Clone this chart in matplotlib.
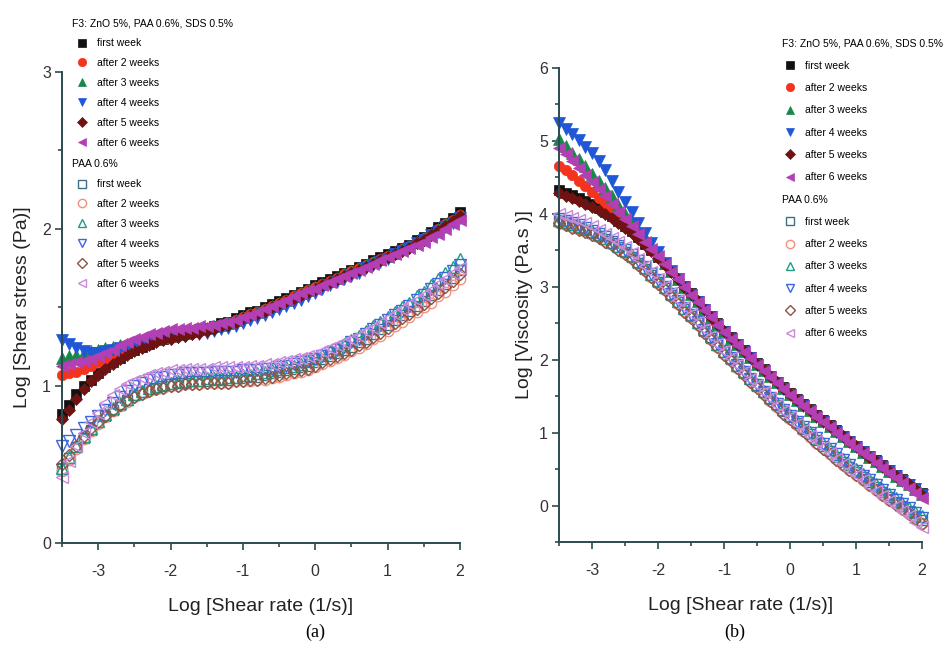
import matplotlib
matplotlib.use("Agg")
import matplotlib.pyplot as plt
from matplotlib.ticker import MultipleLocator

plt.rcParams["axes.unicode_minus"] = False

# log shear rate (1/s), shared by every series
shear_rate = [-3.5, -3.4, -3.3, -3.2, -3.1, -3.0, -2.9, -2.8, -2.7, -2.6,
              -2.5, -2.4, -2.3, -2.2, -2.1, -2.0, -1.9, -1.8, -1.7, -1.6,
              -1.5, -1.4, -1.3, -1.2, -1.1, -1.0, -0.9, -0.8, -0.7, -0.6,
              -0.5, -0.4, -0.3, -0.2, -0.1, 0.0, 0.1, 0.2, 0.3, 0.4,
              0.5, 0.6, 0.7, 0.8, 0.9, 1.0, 1.1, 1.2, 1.3, 1.4,
              1.5, 1.6, 1.7, 1.8, 1.9, 2.0]

week_labels = ["first week", "after 2 weeks", "after 3 weeks",
               "after 4 weeks", "after 5 weeks", "after 6 weeks"]
f3_title = "F3: ZnO 5%, PAA 0.6%, SDS 0.5%"
paa_title = "PAA 0.6%"

# (a) log shear stress, F3 formulation
stress_f3 = [
    [0.82, 0.88, 0.95, 1.00, 1.04, 1.08, 1.12, 1.15, 1.18, 1.21, 1.23, 1.25, 1.27, 1.29, 1.30, 1.32, 1.33, 1.34, 1.35, 1.36,
     1.37, 1.38, 1.40, 1.41, 1.43, 1.45, 1.47, 1.48, 1.50, 1.52, 1.54, 1.56, 1.58, 1.60, 1.62, 1.64, 1.66, 1.68, 1.70, 1.72,
     1.74, 1.76, 1.78, 1.80, 1.82, 1.84, 1.86, 1.88, 1.90, 1.93, 1.95, 1.98, 2.01, 2.04, 2.07, 2.11],
    [1.07, 1.08, 1.09, 1.11, 1.13, 1.15, 1.17, 1.19, 1.21, 1.23, 1.25, 1.26, 1.28, 1.29, 1.30, 1.31, 1.32, 1.33, 1.34, 1.35,
     1.36, 1.37, 1.39, 1.40, 1.42, 1.44, 1.46, 1.47, 1.49, 1.51, 1.53, 1.55, 1.57, 1.59, 1.61, 1.63, 1.65, 1.67, 1.69, 1.71,
     1.73, 1.75, 1.77, 1.79, 1.81, 1.83, 1.85, 1.87, 1.89, 1.92, 1.94, 1.97, 2.00, 2.03, 2.06, 2.09],
    [1.18, 1.19, 1.20, 1.21, 1.22, 1.23, 1.24, 1.25, 1.26, 1.27, 1.28, 1.29, 1.30, 1.30, 1.31, 1.32, 1.33, 1.34, 1.35, 1.36,
     1.37, 1.38, 1.39, 1.40, 1.42, 1.44, 1.46, 1.47, 1.49, 1.51, 1.53, 1.55, 1.57, 1.59, 1.61, 1.63, 1.65, 1.67, 1.69, 1.71,
     1.73, 1.75, 1.77, 1.79, 1.81, 1.83, 1.85, 1.87, 1.89, 1.92, 1.94, 1.97, 2.00, 2.03, 2.06, 2.09],
    [1.29, 1.27, 1.24, 1.22, 1.21, 1.21, 1.22, 1.23, 1.24, 1.25, 1.26, 1.27, 1.28, 1.29, 1.30, 1.30, 1.31, 1.32, 1.33, 1.33,
     1.34, 1.35, 1.36, 1.37, 1.38, 1.40, 1.42, 1.43, 1.45, 1.47, 1.49, 1.51, 1.53, 1.55, 1.57, 1.59, 1.62, 1.64, 1.66, 1.68,
     1.70, 1.72, 1.75, 1.77, 1.79, 1.81, 1.84, 1.86, 1.88, 1.91, 1.93, 1.96, 1.98, 2.01, 2.04, 2.07],
    [0.79, 0.85, 0.92, 0.98, 1.03, 1.07, 1.11, 1.14, 1.17, 1.20, 1.22, 1.24, 1.26, 1.28, 1.29, 1.30, 1.31, 1.32, 1.33, 1.34,
     1.35, 1.36, 1.38, 1.39, 1.41, 1.43, 1.45, 1.46, 1.48, 1.50, 1.52, 1.54, 1.56, 1.58, 1.60, 1.62, 1.64, 1.66, 1.68, 1.70,
     1.72, 1.74, 1.76, 1.78, 1.80, 1.82, 1.84, 1.86, 1.88, 1.91, 1.93, 1.96, 1.99, 2.02, 2.05, 2.08],
    [1.13, 1.14, 1.15, 1.16, 1.17, 1.19, 1.21, 1.23, 1.26, 1.28, 1.30, 1.31, 1.33, 1.34, 1.35, 1.36, 1.36, 1.37, 1.37, 1.38,
     1.38, 1.39, 1.40, 1.41, 1.42, 1.44, 1.45, 1.47, 1.49, 1.51, 1.53, 1.55, 1.57, 1.59, 1.61, 1.62, 1.64, 1.66, 1.68, 1.70,
     1.72, 1.74, 1.76, 1.78, 1.80, 1.82, 1.84, 1.86, 1.88, 1.90, 1.92, 1.95, 1.97, 2.00, 2.03, 2.06],
]

# (a) log shear stress, PAA 0.6% alone
stress_paa = [
    [0.47, 0.54, 0.61, 0.67, 0.72, 0.77, 0.81, 0.85, 0.88, 0.91, 0.94, 0.96, 0.98, 0.99, 1.00, 1.01, 1.02, 1.02, 1.03, 1.03,
     1.03, 1.04, 1.04, 1.04, 1.05, 1.05, 1.06, 1.06, 1.07, 1.08, 1.09, 1.10, 1.11, 1.12, 1.13, 1.15, 1.17, 1.19, 1.21, 1.23,
     1.25, 1.28, 1.30, 1.33, 1.36, 1.39, 1.42, 1.45, 1.48, 1.51, 1.54, 1.58, 1.61, 1.65, 1.69, 1.74],
    [0.46, 0.53, 0.60, 0.66, 0.71, 0.76, 0.80, 0.84, 0.87, 0.90, 0.93, 0.95, 0.97, 0.98, 0.99, 1.00, 1.00, 1.01, 1.01, 1.01,
     1.02, 1.02, 1.02, 1.02, 1.03, 1.03, 1.03, 1.04, 1.04, 1.05, 1.06, 1.07, 1.08, 1.09, 1.10, 1.12, 1.14, 1.16, 1.18, 1.20,
     1.22, 1.24, 1.27, 1.30, 1.32, 1.35, 1.38, 1.41, 1.44, 1.47, 1.50, 1.53, 1.57, 1.60, 1.64, 1.68],
    [0.48, 0.55, 0.62, 0.68, 0.73, 0.78, 0.82, 0.86, 0.89, 0.92, 0.95, 0.97, 0.99, 1.00, 1.01, 1.02, 1.03, 1.03, 1.04, 1.04,
     1.05, 1.05, 1.05, 1.06, 1.06, 1.07, 1.07, 1.08, 1.09, 1.10, 1.11, 1.12, 1.13, 1.14, 1.16, 1.18, 1.20, 1.22, 1.24, 1.27,
     1.29, 1.32, 1.35, 1.38, 1.41, 1.44, 1.47, 1.50, 1.53, 1.57, 1.60, 1.64, 1.68, 1.72, 1.76, 1.81],
    [0.62, 0.65, 0.69, 0.73, 0.77, 0.81, 0.85, 0.89, 0.93, 0.97, 1.00, 1.02, 1.04, 1.05, 1.06, 1.07, 1.07, 1.08, 1.08, 1.08,
     1.08, 1.09, 1.09, 1.09, 1.09, 1.10, 1.10, 1.10, 1.11, 1.11, 1.12, 1.13, 1.14, 1.15, 1.16, 1.17, 1.19, 1.21, 1.23, 1.25,
     1.28, 1.30, 1.33, 1.36, 1.39, 1.42, 1.45, 1.48, 1.51, 1.55, 1.58, 1.62, 1.65, 1.69, 1.73, 1.77],
    [0.50, 0.56, 0.62, 0.68, 0.73, 0.77, 0.81, 0.85, 0.88, 0.91, 0.93, 0.95, 0.97, 0.98, 0.99, 1.00, 1.00, 1.01, 1.01, 1.01,
     1.02, 1.02, 1.02, 1.02, 1.03, 1.03, 1.04, 1.04, 1.05, 1.06, 1.07, 1.08, 1.09, 1.10, 1.11, 1.13, 1.15, 1.17, 1.19, 1.21,
     1.23, 1.26, 1.28, 1.31, 1.34, 1.37, 1.40, 1.43, 1.46, 1.49, 1.52, 1.56, 1.59, 1.63, 1.67, 1.71],
    [0.42, 0.52, 0.62, 0.70, 0.77, 0.83, 0.89, 0.94, 0.98, 1.01, 1.03, 1.05, 1.07, 1.08, 1.09, 1.10, 1.10, 1.11, 1.11, 1.11,
     1.11, 1.12, 1.12, 1.12, 1.12, 1.12, 1.13, 1.13, 1.14, 1.14, 1.15, 1.16, 1.17, 1.18, 1.19, 1.20, 1.22, 1.24, 1.26, 1.28,
     1.30, 1.32, 1.35, 1.37, 1.40, 1.43, 1.46, 1.49, 1.52, 1.55, 1.58, 1.61, 1.65, 1.68, 1.72, 1.75],
]

# (b) log viscosity, F3 formulation
visc_f3 = [
    [4.32, 4.29, 4.26, 4.22, 4.18, 4.13, 4.08, 4.03, 3.97, 3.90, 3.83, 3.76, 3.68, 3.59, 3.50, 3.41, 3.31, 3.21, 3.11, 3.01,
     2.91, 2.81, 2.70, 2.60, 2.50, 2.40, 2.31, 2.22, 2.13, 2.04, 1.95, 1.87, 1.78, 1.70, 1.62, 1.54, 1.46, 1.39, 1.32, 1.24,
     1.17, 1.10, 1.03, 0.96, 0.89, 0.82, 0.75, 0.68, 0.62, 0.55, 0.49, 0.42, 0.36, 0.30, 0.24, 0.17],
    [4.66, 4.60, 4.53, 4.45, 4.38, 4.30, 4.22, 4.14, 4.05, 3.97, 3.88, 3.79, 3.70, 3.60, 3.51, 3.41, 3.31, 3.21, 3.11, 3.00,
     2.90, 2.80, 2.69, 2.59, 2.49, 2.39, 2.30, 2.21, 2.12, 2.03, 1.94, 1.86, 1.77, 1.69, 1.61, 1.53, 1.45, 1.38, 1.31, 1.23,
     1.16, 1.09, 1.02, 0.95, 0.88, 0.81, 0.74, 0.67, 0.61, 0.54, 0.48, 0.41, 0.35, 0.29, 0.23, 0.16],
    [5.02, 4.93, 4.84, 4.75, 4.65, 4.55, 4.45, 4.35, 4.24, 4.12, 4.00, 3.89, 3.78, 3.68, 3.56, 3.45, 3.32, 3.21, 3.11, 3.00,
     2.90, 2.80, 2.69, 2.59, 2.49, 2.39, 2.30, 2.21, 2.12, 2.03, 1.94, 1.86, 1.77, 1.69, 1.61, 1.53, 1.45, 1.38, 1.31, 1.23,
     1.16, 1.09, 1.02, 0.95, 0.88, 0.81, 0.74, 0.67, 0.61, 0.54, 0.48, 0.41, 0.35, 0.29, 0.23, 0.16],
    [5.24, 5.17, 5.10, 5.01, 4.92, 4.83, 4.72, 4.60, 4.45, 4.30, 4.16, 4.02, 3.88, 3.74, 3.60, 3.47, 3.33, 3.21, 3.10, 2.99,
     2.89, 2.79, 2.68, 2.58, 2.48, 2.38, 2.29, 2.20, 2.11, 2.02, 1.93, 1.85, 1.76, 1.68, 1.60, 1.52, 1.44, 1.37, 1.30, 1.22,
     1.15, 1.08, 1.01, 0.94, 0.87, 0.80, 0.73, 0.66, 0.60, 0.53, 0.47, 0.40, 0.34, 0.28, 0.22, 0.15],
    [4.28, 4.25, 4.22, 4.18, 4.14, 4.10, 4.05, 4.00, 3.94, 3.88, 3.81, 3.74, 3.66, 3.57, 3.49, 3.40, 3.30, 3.20, 3.10, 3.00,
     2.90, 2.80, 2.69, 2.59, 2.49, 2.39, 2.30, 2.21, 2.12, 2.03, 1.94, 1.86, 1.77, 1.69, 1.61, 1.53, 1.45, 1.38, 1.31, 1.23,
     1.16, 1.09, 1.02, 0.95, 0.88, 0.81, 0.74, 0.67, 0.61, 0.54, 0.48, 0.41, 0.35, 0.29, 0.23, 0.15],
    [4.90, 4.82, 4.73, 4.63, 4.53, 4.44, 4.34, 4.24, 4.14, 4.03, 3.93, 3.83, 3.72, 3.62, 3.52, 3.42, 3.31, 3.20, 3.10, 2.99,
     2.89, 2.79, 2.68, 2.58, 2.48, 2.38, 2.29, 2.20, 2.11, 2.02, 1.93, 1.84, 1.76, 1.68, 1.60, 1.52, 1.44, 1.36, 1.29, 1.22,
     1.14, 1.07, 1.00, 0.93, 0.86, 0.79, 0.72, 0.66, 0.59, 0.52, 0.45, 0.38, 0.31, 0.24, 0.17, 0.10],
]

# (b) log viscosity, PAA 0.6% alone
visc_paa = [
    [3.90, 3.87, 3.84, 3.81, 3.78, 3.74, 3.70, 3.65, 3.60, 3.54, 3.48, 3.41, 3.33, 3.25, 3.16, 3.07, 2.98, 2.89, 2.79, 2.69,
     2.60, 2.50, 2.40, 2.30, 2.20, 2.10, 2.01, 1.91, 1.82, 1.73, 1.64, 1.55, 1.46, 1.38, 1.30, 1.21, 1.13, 1.05, 0.98, 0.90,
     0.82, 0.75, 0.67, 0.60, 0.53, 0.46, 0.39, 0.32, 0.25, 0.18, 0.12, 0.05, -0.01, -0.07, -0.14, -0.20],
    [3.88, 3.85, 3.82, 3.79, 3.76, 3.72, 3.68, 3.63, 3.58, 3.52, 3.46, 3.39, 3.31, 3.23, 3.14, 3.05, 2.96, 2.87, 2.77, 2.67,
     2.58, 2.48, 2.38, 2.28, 2.18, 2.08, 1.99, 1.89, 1.80, 1.71, 1.62, 1.53, 1.44, 1.35, 1.27, 1.18, 1.10, 1.02, 0.94, 0.86,
     0.79, 0.71, 0.64, 0.56, 0.49, 0.42, 0.35, 0.28, 0.21, 0.15, 0.08, 0.02, -0.05, -0.11, -0.17, -0.24],
    [3.92, 3.89, 3.86, 3.83, 3.80, 3.76, 3.72, 3.67, 3.62, 3.56, 3.50, 3.43, 3.35, 3.27, 3.18, 3.09, 3.00, 2.91, 2.81, 2.71,
     2.62, 2.52, 2.42, 2.32, 2.22, 2.12, 2.03, 1.93, 1.84, 1.75, 1.66, 1.57, 1.49, 1.40, 1.32, 1.24, 1.16, 1.08, 1.01, 0.93,
     0.86, 0.78, 0.71, 0.64, 0.57, 0.50, 0.43, 0.36, 0.29, 0.23, 0.16, 0.10, 0.04, -0.03, -0.09, -0.15],
    [3.93, 3.90, 3.87, 3.84, 3.81, 3.77, 3.73, 3.68, 3.62, 3.56, 3.50, 3.43, 3.35, 3.27, 3.18, 3.09, 3.00, 2.90, 2.81, 2.71,
     2.61, 2.51, 2.41, 2.31, 2.21, 2.12, 2.02, 1.93, 1.83, 1.74, 1.65, 1.56, 1.48, 1.39, 1.31, 1.23, 1.15, 1.07, 0.99, 0.92,
     0.84, 0.77, 0.70, 0.62, 0.55, 0.48, 0.41, 0.35, 0.28, 0.21, 0.15, 0.08, 0.02, -0.04, -0.10, -0.17],
    [3.87, 3.84, 3.81, 3.78, 3.75, 3.71, 3.67, 3.62, 3.57, 3.51, 3.45, 3.38, 3.30, 3.22, 3.13, 3.04, 2.95, 2.86, 2.76, 2.66,
     2.57, 2.47, 2.37, 2.27, 2.17, 2.07, 1.98, 1.88, 1.79, 1.70, 1.61, 1.52, 1.43, 1.35, 1.26, 1.18, 1.10, 1.02, 0.94, 0.86,
     0.78, 0.71, 0.63, 0.56, 0.49, 0.42, 0.35, 0.28, 0.21, 0.14, 0.08, 0.01, -0.05, -0.12, -0.18, -0.25],
    [4.00, 3.97, 3.94, 3.91, 3.87, 3.83, 3.78, 3.73, 3.67, 3.61, 3.54, 3.46, 3.38, 3.29, 3.20, 3.10, 3.01, 2.91, 2.82, 2.72,
     2.62, 2.52, 2.42, 2.32, 2.22, 2.12, 2.02, 1.93, 1.83, 1.74, 1.65, 1.56, 1.47, 1.38, 1.29, 1.21, 1.12, 1.04, 0.96, 0.88,
     0.80, 0.72, 0.64, 0.57, 0.49, 0.42, 0.35, 0.27, 0.20, 0.13, 0.06, -0.01, -0.08, -0.15, -0.22, -0.30],
]

f3_colors = ["#111111", "#f2341e", "#17884a", "#1f57d6", "#6e1212", "#b23fb4"]
paa_colors = ["#3d6f86", "#f4907c", "#1d9c86", "#3a66e0", "#8c5444", "#c98ad8"]
markers = ["s", "o", "^", "v", "D", "<"]
msizes = [6.5, 7.5, 8, 8, 6.5, 8]

sans = "Liberation Sans"
spine_col = "#2c4a50"

fig = plt.figure(figsize=(9.46, 6.53), dpi=100)
ax_a = fig.add_axes([0.0655, 0.1685, 0.4207, 0.7213])
ax_b = fig.add_axes([0.591, 0.17, 0.3837, 0.7259])


def style_axes(ax, ylim, ylabel, ypad):
    ax.set_xlim(-3.5, 2)
    ax.set_ylim(*ylim)
    ax.xaxis.set_minor_locator(MultipleLocator(0.5))
    ax.yaxis.set_major_locator(MultipleLocator(1))
    ax.yaxis.set_minor_locator(MultipleLocator(0.5))
    ax.set_xticks([-3, -2, -1, 0, 1, 2])
    for s in ["top", "right"]:
        ax.spines[s].set_visible(False)
    for s in ["left", "bottom"]:
        ax.spines[s].set_color(spine_col)
        ax.spines[s].set_linewidth(1.4)
    ax.tick_params(which="both", direction="out", color=spine_col, width=1.2)
    ax.tick_params(which="major", length=5)
    ax.tick_params(axis="x", which="major", pad=10)
    ax.tick_params(axis="y", which="major", pad=3)
    ax.tick_params(which="minor", length=3)
    for lab in ax.get_xticklabels() + ax.get_yticklabels():
        lab.set_family(sans)
        lab.set_fontsize(11.5)
        lab.set_color("#333333")
    ax.set_xlabel("Log [Shear rate (1/s)]", fontsize=14, family=sans, labelpad=14, color="#222222")
    ax.set_ylabel(ylabel, fontsize=14, family=sans, labelpad=ypad, color="#222222")


def draw(ax, f3_data, paa_data):
    h_f3, h_paa = [], []
    for k in range(6):
        h, = ax.plot(shear_rate, paa_data[k], linestyle="none", marker=markers[k], ms=msizes[k],
                     mfc="none", mec=paa_colors[k], mew=1.0, clip_on=False, label=week_labels[k])
        h_paa.append(h)
    for k in range(6):
        h, = ax.plot(shear_rate, f3_data[k], linestyle="none", marker=markers[k], ms=msizes[k],
                     color=f3_colors[k], mec=f3_colors[k], mew=0.5, clip_on=False, label=week_labels[k])
        h_f3.append(h)
    return h_f3, h_paa


def add_legends(ax, h_f3, h_paa, x0, y_f3, y_paa, spacing, hlen, hpad):
    kw = dict(frameon=False, loc="upper left", bbox_transform=fig.transFigure,
              prop={"family": sans, "size": 7.5}, handlelength=hlen, handletextpad=hpad,
              borderpad=0, borderaxespad=0, labelspacing=spacing, alignment="left",
              title_fontproperties={"family": sans, "size": 7.5}, markerscale=0.8)
    leg1 = ax.legend(h_f3, week_labels, title=f3_title, bbox_to_anchor=(x0, y_f3), **kw)
    ax.add_artist(leg1)
    ax.legend(h_paa, week_labels, title=paa_title, bbox_to_anchor=(x0, y_paa), **kw)


ha_f3, ha_paa = draw(ax_a, stress_f3, stress_paa)
hb_f3, hb_paa = draw(ax_b, visc_f3, visc_paa)

style_axes(ax_a, (0, 3), "Log [Shear stress (Pa)]", 8)
style_axes(ax_b, (-0.5, 6), "Log [Viscosity (Pa.s )]", 4)

add_legends(ax_a, ha_f3, ha_paa, 0.076, 0.972, 0.756, 0.95, 2.0, 0.4)
add_legends(ax_b, hb_f3, hb_paa, 0.8266, 0.941, 0.702, 1.18, 1.6, 0.6)

fig.text(315 / 946, 1 - 632 / 653, "(a)", family="Liberation Serif", fontsize=13, ha="center", va="center")
fig.text(735 / 946, 1 - 632 / 653, "(b)", family="Liberation Serif", fontsize=13, ha="center", va="center")

fig.savefig("out.png", dpi=100)
